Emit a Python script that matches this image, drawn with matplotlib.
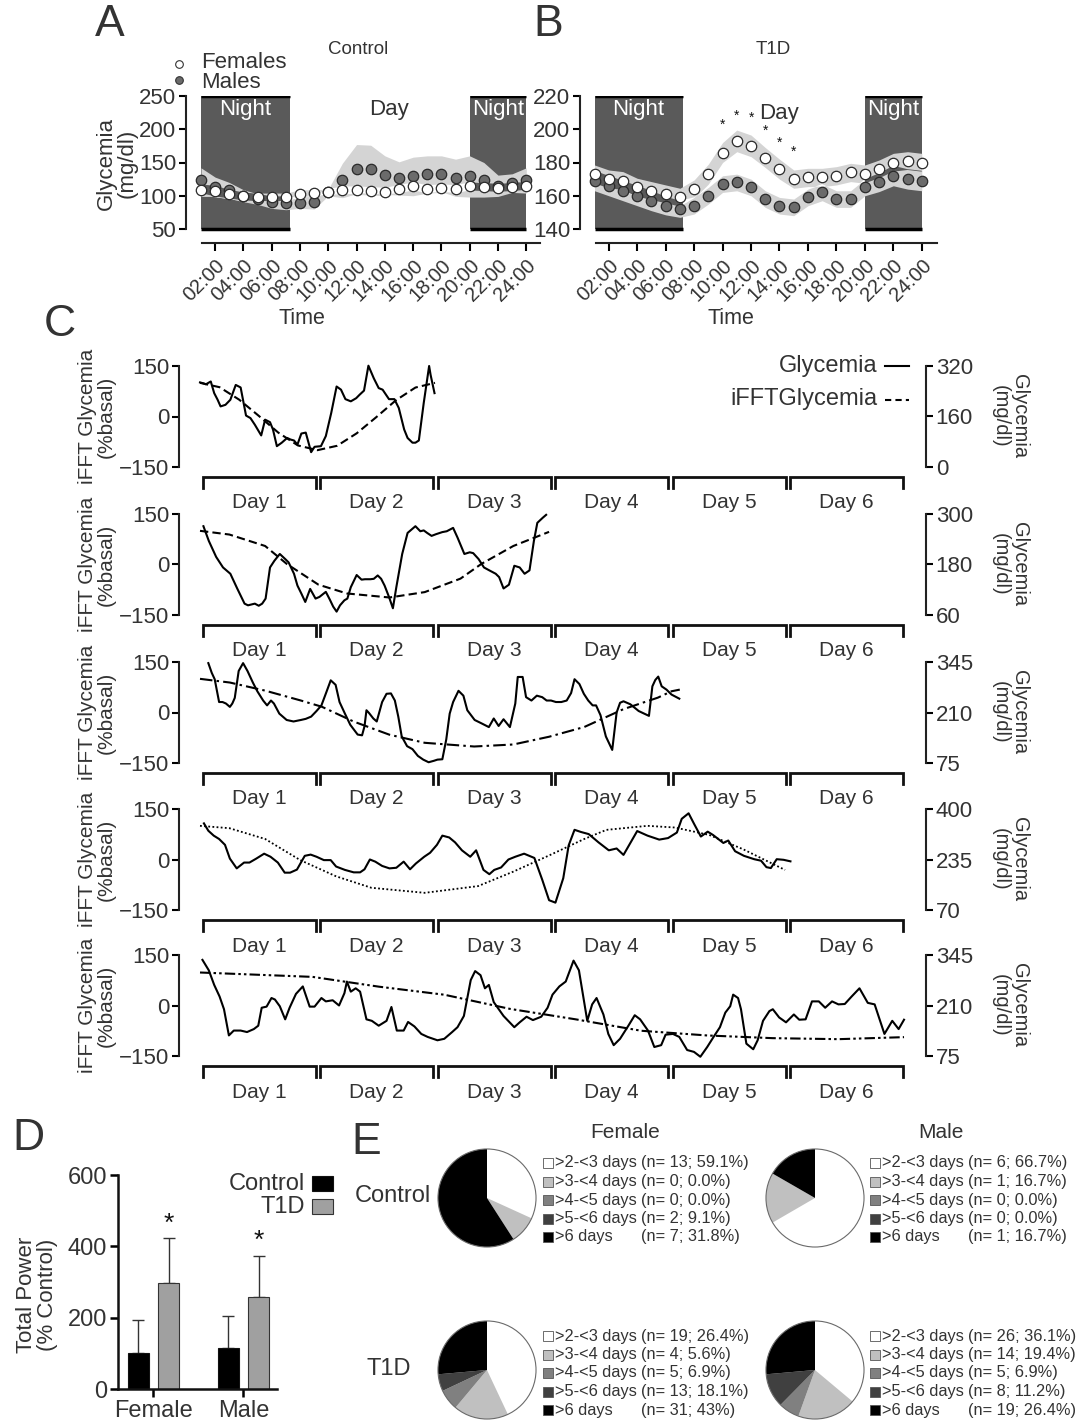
import numpy as np
import matplotlib
matplotlib.use('Agg')
import matplotlib.pyplot as plt
import matplotlib.transforms as mtransforms
from matplotlib.patches import Rectangle, Circle
from matplotlib.lines import Line2D

plt.rcParams['font.family'] = ['Liberation Sans', 'DejaVu Sans']
TXT = '#333333'
W, H = 1085, 1422

# ---------------- data ----------------
hours = np.arange(1, 25)
hour_labels = ['%02d:00' % h for h in range(2, 25, 2)]

ctrl_fem = [108, 107, 102, 99, 98, 98, 98, 103, 104, 106, 108, 108, 107, 106, 110, 114, 110, 111, 110, 114, 113, 112, 113, 115]
ctrl_fem_sem = [9, 8, 7, 6, 6, 6, 6, 6, 5, 4, 6, 6, 6, 6, 6, 6, 6, 6, 6, 6, 6, 6, 6, 6]
ctrl_male = [123, 113, 108, 100, 95, 90, 89, 89, 90, 105, 123, 140, 140, 131, 126, 129, 132, 133, 127, 129, 124, 115, 119, 123]
ctrl_male_sem = [19, 15, 12, 9, 8, 9, 10, 8, 10, 5, 26, 37, 36, 29, 25, 29, 28, 27, 28, 31, 26, 16, 14, 19]

t1d_fem = [173, 170, 169, 165, 163, 161, 159, 164, 173, 186, 193, 190, 183, 176, 170, 171, 171, 172, 174, 173, 176, 180, 181, 180]
t1d_fem_sem = [5.5, 5.5, 5.5, 5.5, 5.5, 5.5, 5.5, 5.5, 6, 6, 6.5, 6.5, 6, 6, 5.5, 5.5, 5.5, 5.5, 5.5, 5.5, 5.5, 5.5, 5.5, 5.5]
t1d_male = [169, 166, 163, 160, 157, 154, 152, 154, 160, 167, 168, 165, 158, 154, 153, 159, 162, 158, 158, 165, 168, 172, 170, 169]
t1d_male_sem = [6, 6, 6, 6, 6, 5.5, 5, 5, 5, 5, 5, 5, 5, 5, 5, 5, 5, 5, 5, 5, 5.5, 6, 6, 6]
star_hours = [10, 11, 12, 13, 14, 15]
star_y = [202.6, 208, 206.6, 199, 192, 186.6]

# panel C rows (hours, glycemia mg/dl) and iFFT (hours, %basal)
r1_h = [0, 0.7, 1.2, 2.2, 2.9, 3.6, 4.2, 5.2, 6.2, 7.3, 8.3, 9.4, 10.3, 11.2, 12.5, 13.3, 14.3, 14.9, 15.7, 16.7,
        17.8, 18.5, 19.2, 19.9, 20.7, 21.6, 22.7, 23.4, 24.7, 25.7, 26.8, 27.9, 28.8, 29.7, 30.8, 31.9, 32.6, 33.5,
        34.4, 35.5, 36.5, 37.3, 38.6, 39.7, 40.6, 41.7, 42.4, 43.4, 44.0, 44.7, 45.7, 46.8, 47.1, 47.9]
r1_g = [268, 265, 262, 271, 234, 213, 192, 197, 213, 260, 252, 163, 155, 134, 100, 150, 142, 119, 66, 77,
        92, 87, 84, 71, 106, 109, 47, 64, 66, 98, 171, 255, 245, 215, 208, 218, 229, 242, 321, 281,
        250, 245, 215, 215, 187, 119, 92, 77, 77, 84, 203, 320, 292, 234]
r1_fh = [0, 4, 8, 12, 16, 20, 24, 28, 32, 36, 40, 44, 48]
r1_fv = [100, 87, 50, 2, -48, -86, -100, -87, -50, -2, 48, 86, 100]

r2_h = [0.7, 1.8, 3.3, 4.7, 6.2, 7.6, 9.1, 9.8, 10.5, 11.2, 12.0, 12.7, 13.4, 14.3, 15.2, 16.3, 17.4, 18.1, 19.2, 19.9,
        20.7, 21.5, 22.5, 23.6, 24.4, 25.7, 26.5, 27.2, 27.9, 28.6, 29.5, 30.1, 30.8, 32.0, 33.0, 33.7, 34.8, 35.5,
        36.3, 37.0, 37.7, 38.6, 39.4, 40.1, 41.3, 42.4, 44.0, 45.0, 45.7, 46.4, 47.3, 48.2, 49.5, 50.4, 51.7, 52.6,
        54.0, 55.1, 55.8, 56.9, 58.0, 59.1, 60.4, 61.1, 62.0, 63.1, 64.2, 65.3, 66.3, 67.3, 68.2, 68.9, 70.0, 70.7]
r2_g = [271, 236, 198, 173, 158, 123, 87, 83, 85, 87, 82, 87, 99, 173, 189, 205, 193, 185, 158, 130,
        111, 91, 122, 99, 103, 115, 97, 80, 68, 83, 95, 99, 126, 155, 144, 145, 145, 146, 154, 146,
        130, 103, 76, 126, 205, 255, 271, 259, 261, 255, 248, 252, 257, 259, 267, 244, 205, 209, 207, 193,
        173, 166, 158, 150, 123, 132, 177, 173, 158, 166, 236, 279, 291, 298]
r2_fh = [0, 6, 13.3, 17.7, 24.2, 30, 38.7, 45.9, 53.2, 57.5, 64, 71.3]
r2_fv = [100, 89, 55, 2, -60, -86, -98, -82, -42, 2, 55, 97]

r3_h = [1.7, 2.4, 3.0, 3.9, 4.6, 5.3, 6.1, 6.6, 7.1, 7.9, 8.8, 9.7, 10.8, 11.7, 12.9, 13.7, 14.5, 15.1, 16.2, 17.7,
        19.1, 20.6, 21.6, 22.7, 23.8, 24.8, 25.8, 26.7, 27.7, 28.5, 29.6, 30.7, 32.2, 33.1, 33.6, 34.0, 34.5, 35.4,
        36.1, 37.2, 38.1, 39.0, 39.8, 40.5, 41.2, 42.3, 43.4, 44.5, 45.6, 46.7, 47.8, 48.5, 49.5, 50.3, 51.0, 51.7,
        52.8, 53.8, 54.6, 56.1, 57.5, 59.0, 60.0, 61.0, 62.0, 63.3, 64.4, 64.9, 65.9, 66.6, 67.7, 68.8, 69.9, 70.8,
        71.7, 72.7, 73.8, 74.9, 75.8, 76.5, 77.5, 78.4, 79.3, 80.2, 80.9, 81.8, 82.9, 84.2, 85.1, 85.8, 86.5, 87.9,
        89.6, 91.7, 92.4, 93.0, 93.6, 94.3, 95.3, 96.3, 97.9]
r3_g = [342, 316, 299, 238, 238, 234, 225, 234, 249, 321, 342, 321, 290, 267, 242, 229, 242, 234, 207, 190,
        186, 190, 193, 199, 214, 229, 264, 296, 284, 238, 207, 177, 151, 149, 173, 216, 209, 194, 186, 238,
        260, 261, 242, 199, 146, 120, 112, 94, 84, 77, 81, 84, 85, 138, 207, 238, 268, 255, 216, 190,
        181, 171, 194, 174, 192, 171, 234, 305, 305, 251, 242, 255, 251, 242, 242, 238, 238, 242, 262, 299,
        286, 260, 242, 229, 229, 203, 146, 110, 210, 236, 240, 232, 214, 201, 280, 297, 306, 280, 271, 258, 247]
r3_fh = [0, 6.1, 13.3, 20.5, 24.9, 31.4, 38.7, 45.9, 56, 64, 71.3, 78.5, 86.5, 93.5, 96.3, 98]
r3_fv = [100, 89, 65, 36, 17, -27, -66, -90, -101, -95, -72, -43, 10, 44, 63, 68]

r4_h = [0.8, 1.7, 2.8, 3.9, 5.1, 6.1, 7.5, 9.0, 10.1, 11.5, 13.1, 14.4, 15.9, 17.3, 18.4, 19.8, 21.4, 22.6, 23.8, 25.3,
        26.7, 27.8, 29.6, 31.4, 32.7, 33.6, 34.7, 35.8, 37.2, 38.7, 40.1, 41.6, 42.9, 44.1, 45.8, 47.0, 48.4, 49.5,
        50.9, 52.1, 53.5, 55.2, 56.4, 57.9, 59.1, 60.1, 61.5, 63.0, 64.4, 66.2, 68.3, 69.9, 71.3, 72.6, 74.2, 75.3,
        76.5, 77.8, 79.4, 81.4, 83.5, 85.1, 86.5, 89.3, 91.4, 93.8, 95.6, 97.4, 98.4, 99.8, 100.9, 102.3, 103.7,
        104.8, 106.9, 107.9, 109.3, 111.1, 113.2, 114.6, 115.7, 116.6, 117.8, 119.2, 120.6]
r4_g = [353, 329, 313, 302, 283, 238, 206, 225, 225, 238, 254, 244, 225, 192, 192, 202, 247, 251, 244, 233,
        233, 212, 201, 193, 193, 203, 235, 228, 214, 206, 208, 228, 203, 222, 244, 257, 283, 313, 307, 291,
        265, 244, 265, 201, 187, 201, 209, 235, 244, 254, 240, 169, 102, 94, 174, 281, 332, 325, 318, 291,
        265, 271, 250, 328, 313, 300, 305, 323, 368, 386, 352, 310, 326, 315, 289, 297, 262, 247, 236, 231,
        210, 207, 236, 234, 229]
r4_fh = [0, 6, 13.3, 20.5, 27.8, 35, 45.9, 56.8, 64, 71.3, 78.5, 83, 91.4, 97, 104, 111, 119.5]
r4_fv = [100, 93, 61, -2, -50, -84, -99, -79, -36, 12, 61, 88, 100, 95, 73, 30, -31]

r5_h = [0.5, 1.8, 2.9, 4.0, 4.9, 5.9, 6.9, 8.3, 9.6, 11.0, 11.9, 12.6, 13.6, 14.6, 15.3, 16.3, 17.4, 18.3, 19.6, 21.0,
        22.4, 23.4, 24.8, 25.7, 27.1, 28.4, 29.5, 30.0, 30.8, 31.8, 32.7, 34.0, 35.1, 36.5, 38.1, 39.1, 40.2, 41.6,
        42.5, 43.8, 45.2, 46.5, 48.5, 49.9, 51.5, 52.6, 53.9, 55.3, 56.2, 57.3, 58.2, 59.0, 60.0, 62.0, 64.2, 65.3,
        66.7, 68.0, 69.7, 71.0, 72.0, 73.4, 74.7, 76.3, 77.4, 79.1, 80.1, 81.0, 82.4, 83.4, 84.5, 85.8, 87.5, 88.8,
        89.9, 91.5, 92.8, 94.2, 95.1, 96.6, 97.9, 99.5, 100.9, 102.2, 103.6, 104.9, 106.2, 107.3, 108.3, 108.9,
        109.9, 110.5, 111.6, 113.0, 113.9, 115.0, 116.3, 117.0, 118.3, 119.7, 121.3, 122.4, 123.7, 125.0, 126.4,
        127.7, 129.1, 130.4, 131.7, 133.1, 134.7, 136.4, 137.8, 139.8, 141.4, 142.7, 143.8]
r5_g = [332, 304, 265, 234, 200, 130, 143, 143, 139, 147, 156, 204, 207, 230, 226, 208, 173, 204, 241, 261,
        207, 207, 230, 221, 224, 210, 243, 274, 247, 256, 247, 173, 169, 156, 169, 206, 143, 143, 166, 154,
        134, 126, 117, 121, 139, 152, 182, 278, 302, 291, 256, 265, 219, 182, 152, 165, 180, 171, 180, 204,
        239, 261, 274, 330, 304, 169, 213, 230, 186, 134, 104, 121, 156, 184, 173, 143, 99, 104, 132, 134,
        126, 91, 86, 73, 99, 126, 152, 191, 208, 239, 230, 200, 108, 93, 117, 169, 195, 200, 178, 165,
        186, 172, 173, 221, 221, 204, 221, 213, 214, 234, 256, 217, 213, 134, 169, 147, 172]
r5_fh = [0, 23, 36.5, 49.9, 63.3, 76.7, 90.1, 103.6, 117, 130.4, 143.8]
r5_fv = [98, 85, 56, 32, -10, -41, -75, -89, -97, -100, -94]

right_lims = [(0, 320), (60, 300), (75, 345), (70, 400), (75, 345)]

# panel D
groups = ['Female', 'Male']
power_ctrl = [101, 114]
power_ctrl_err = [193, 205]
power_t1d = [296, 257]
power_t1d_err = [422, 374]

# panel E
dur_labels = ['>2-<3 days', '>3-<4 days', '>4-<5 days', '>5-<6 days', '>6 days']
f_ctrl_n = [13, 0, 0, 2, 7]
f_ctrl_pct = ['59.1%', '0.0%', '0.0%', '9.1%', '31.8%']
m_ctrl_n = [6, 1, 0, 0, 1]
m_ctrl_pct = ['66.7%', '16.7%', '0.0%', '0.0%', '16.7%']
f_t1d_n = [19, 4, 5, 13, 31]
f_t1d_pct = ['26.4%', '5.6%', '6.9%', '18.1%', '43%']
m_t1d_n = [26, 14, 5, 8, 19]
m_t1d_pct = ['36.1%', '19.4%', '6.9%', '11.2%', '26.4%']
# slice shares as drawn in the pies (clockwise from 12 o'clock)
f_ctrl_pie = [31.8, 9.1, 0, 0, 59.1]
m_ctrl_pie = [66.7, 16.7, 0, 0, 16.7]
f_t1d_pie = [43, 18.1, 6.9, 5.6, 26.4]
m_t1d_pie = [36.1, 19.4, 6.9, 11.2, 26.4]
pie_colors = ['#ffffff', '#c0c0c0', '#808080', '#404040', '#000000']

# ---------------- helpers ----------------
fig = plt.figure(figsize=(W / 100, H / 100), dpi=100)


def box(l, t, r, b):
    return [l / W, 1 - b / H, (r - l) / W, (b - t) / H]


def ftext(x, y, s, **kw):
    kw.setdefault('color', TXT)
    return fig.text(x / W, 1 - y / H, s, **kw)


NIGHT = '#5a5a5a'
BAND = '#d4d4d4'


def day_panel(l, r, ymin, ymax, xl, xr, f, fs, m, ms, nights, yticks):
    ax = fig.add_axes(box(l, 96, r, 243))
    ybot = ymin - (ymax - ymin) * 14 / 133
    ax.set_xlim(xl, xr)
    ax.set_ylim(ybot, ymax)
    for s in ['top', 'right']:
        ax.spines[s].set_visible(False)
    ax.spines['left'].set_bounds(ymin, ymax)
    ax.spines['bottom'].set_bounds(1.07, xr)
    for s in ['left', 'bottom']:
        ax.spines[s].set_linewidth(1.5)
        ax.spines[s].set_color('#222')
    ax.set_yticks(yticks)
    ax.set_xticks(range(2, 25, 2))
    ax.set_xticklabels(hour_labels, rotation=45, ha='right', rotation_mode='anchor')
    ax.tick_params(axis='y', length=5, width=1.5, labelsize=16, labelcolor=TXT, pad=2)
    ax.tick_params(axis='x', length=6, width=1.5, labelsize=14.5, labelcolor=TXT, pad=3)

    for a, b in nights:
        ax.add_patch(Rectangle((a, ymin), b - a, ymax - ymin, fc=NIGHT, ec='none', zorder=1))
        ax.plot([a, b], [ymax, ymax], color='k', lw=2.5, zorder=6, solid_capstyle='butt')
        ax.plot([a, b], [ymin, ymin], color='k', lw=2.5, zorder=6, solid_capstyle='butt')

    f, fs, m, ms = map(np.asarray, (f, fs, m, ms))
    f_lo, f_hi, m_lo, m_hi = f - fs, f + fs, m - ms, m + ms
    ax.fill_between(hours, f_lo, f_hi, color=BAND, lw=0, zorder=2)
    ax.fill_between(hours, m_lo, m_hi, color=BAND, lw=0, zorder=2)
    ov_lo = np.maximum(f_lo, m_lo)
    ov_hi = np.minimum(f_hi, m_hi)
    regions = [(nights[0][1], nights[1][0], 'white')] + [(a, b, NIGHT) for a, b in nights]
    for a, b, c in regions:
        pc = ax.fill_between(hours, ov_lo, ov_hi, where=ov_hi > ov_lo, interpolate=True,
                             color=c, lw=0, zorder=3)
        clip = Rectangle((a, ymin), b - a, ymax - ymin, transform=ax.transData)
        pc.set_clip_path(clip)

    ax.plot(hours, m, 'o', mfc='#6b6b6b', mec='#2a2a2a', ms=7.5, mew=0.9, zorder=5, clip_on=False)
    ax.plot(hours, f, 'o', mfc='white', mec='#2a2a2a', ms=7.5, mew=0.9, zorder=5, clip_on=False)
    for a, b in nights:
        ax.text((a + b) / 2, ymin + (ymax - ymin) * 0.895, 'Night', color='white', fontsize=16,
                ha='center', va='center', zorder=7)
    return ax


# ---------------- panel A ----------------
axA = day_panel(186, 540, 50, 250, -0.06, 24.97, ctrl_fem, ctrl_fem_sem, ctrl_male, ctrl_male_sem,
                [(1, 7.3), (20, 24)], [50, 100, 150, 200, 250])
axA.text(14.3, 250 - 200 * 0.105, 'Day', fontsize=16, color=TXT, ha='center', va='center')
ftext(358, 50, 'Control', fontsize=13.5, ha='center', va='center')
ftext(117, 163, 'Glycemia\n(mg/dl)', fontsize=16, rotation=90, ha='center', va='center', linespacing=1.0)
ftext(302, 318, 'Time', fontsize=15.5, ha='center', va='center')
ftext(110, 25, 'A', fontsize=32, ha='center', va='center')
fig.add_artist(Line2D([179 / W], [1 - 64 / H], marker='o', mfc='white', mec='#333', ms=5.5, mew=0.8,
                      transform=fig.transFigure))
fig.add_artist(Line2D([179 / W], [1 - 80 / H], marker='o', mfc='#6b6b6b', mec='#333', ms=5.5, mew=0.8,
                      transform=fig.transFigure))
ftext(201, 63, 'Females', fontsize=16, ha='left', va='center')
ftext(201, 82, 'Males', fontsize=16, ha='left', va='center')

# ---------------- panel B ----------------
axB = day_panel(580, 937, 140, 220, -0.02, 25.07, t1d_fem, t1d_fem_sem, t1d_male, t1d_male_sem,
                [(1, 7.2), (20, 24)], [140, 160, 180, 200, 220])
axB.text(14.0, 209.5, 'Day', fontsize=16, color=TXT, ha='center', va='center', zorder=8)
for h, y in zip(star_hours, star_y):
    axB.text(h, y, '*', fontsize=10, color='#111', ha='center', va='center', zorder=8)
ftext(773, 50, 'T1D', fontsize=13.5, ha='center', va='center')
ftext(731, 318, 'Time', fontsize=15.5, ha='center', va='center')
ftext(548, 25, 'B', fontsize=32, ha='center', va='center')

# ---------------- panel C ----------------
ftext(60, 325, 'C', fontsize=32, ha='center', va='center')
rows = [
    (r1_h, r1_g, r1_fh, r1_fv, (0, (4, 2))),
    (r2_h, r2_g, r2_fh, r2_fv, (0, (4, 2))),
    (r3_h, r3_g, r3_fh, r3_fv, (0, (6, 2, 1.2, 2))),
    (r4_h, r4_g, r4_fh, r4_fv, (0, (1, 1.3))),
    (r5_h, r5_g, r5_fh, r5_fv, (0, (5, 1.5, 1.2, 1.5, 1.2, 1.5))),
]
row_tops = [366, 514, 662, 809, 955]
RH = 101
for i, (sh, sg, fh, fv, ls) in enumerate(rows):
    top = row_tops[i]
    ax = fig.add_axes(box(179, top, 926, top + RH))
    ax.set_xlim(-4.29, 148.29)
    ax.set_ylim(-150, 150)
    for s in ['top', 'bottom', 'right']:
        ax.spines[s].set_visible(False)
    ax.spines['left'].set_linewidth(1.5)
    ax.spines['left'].set_color('#222')
    ax.set_xticks([])
    ax.set_yticks([-150, 0, 150])
    ax.tick_params(axis='y', length=5, width=1.5, labelsize=16, labelcolor=TXT, pad=2)
    lw_f = 1.3 if i == 3 else 1.5
    ax.plot(fh, fv, color='k', lw=lw_f, ls=ls, clip_on=False)

    ax2 = ax.twinx()
    lo, hi = right_lims[i]
    ax2.set_ylim(lo, hi)
    ax2.set_yticks([lo, (lo + hi) / 2, hi])
    ax2.set_yticklabels([str(int(v)) for v in (lo, (lo + hi) / 2, hi)])
    for s in ['top', 'bottom', 'left']:
        ax2.spines[s].set_visible(False)
    ax2.spines['right'].set_linewidth(1.5)
    ax2.spines['right'].set_color('#222')
    ax2.tick_params(axis='y', length=5, width=1.5, labelsize=16, labelcolor=TXT, pad=2)
    ax2.plot(sh, sg, color='k', lw=1.5, clip_on=False)

    mid = top + RH / 2
    ftext(97, mid, 'iFFT Glycemia\n(%basal)', fontsize=15, rotation=90, ha='center', va='center',
          linespacing=1.0)
    ftext(1010, mid, 'Glycemia\n(mg/dl)', fontsize=14.5, rotation=270, ha='center', va='center',
          linespacing=1.0)

    trans = mtransforms.blended_transform_factory(ax.transData, ax.transAxes)
    y0, y1, yl = -10 / RH, -21 / RH, -36 / RH
    for d in range(6):
        a, b = d * 24 + 0.6, d * 24 + 23.6
        ax.plot([a, a, b, b], [y1, y0, y0, y1], transform=trans, color='#111', lw=2,
                clip_on=False, solid_joinstyle='miter')
        ax.text((a + b) / 2, yl, 'Day %d' % (d + 1), transform=trans, ha='center', va='center',
                fontsize=15, color=TXT)

# legend of panel C
ftext(878, 366, 'Glycemia', fontsize=17, ha='right', va='center')
ftext(878, 399, 'iFFTGlycemia', fontsize=17, ha='right', va='center')
fig.add_artist(Line2D([885 / W, 909 / W], [1 - 366 / H] * 2, color='k', lw=1.5, transform=fig.transFigure))
fig.add_artist(Line2D([885 / W, 909 / W], [1 - 400 / H] * 2, color='k', lw=1.5, ls=(0, (3, 2)),
                      transform=fig.transFigure))

# ---------------- panel D ----------------
ftext(28, 1138, 'D', fontsize=32, ha='center', va='center')
axD = fig.add_axes(box(118, 1175, 277, 1389))
axD.set_xlim(-0.395, 1.375)
axD.set_ylim(0, 600)
for s in ['top', 'right']:
    axD.spines[s].set_visible(False)
for s in ['left', 'bottom']:
    axD.spines[s].set_linewidth(1.8)
    axD.spines[s].set_color('#111')
xg = np.arange(len(groups))
bw = 0.234
axD.bar(xg - 0.17, power_ctrl, bw, color='black', edgecolor='#111', lw=0.8, zorder=2)
axD.bar(xg + 0.17, power_t1d, bw, color='#a0a0a0', edgecolor='#333', lw=0.8, zorder=2)
axD.errorbar(xg - 0.17, power_ctrl, yerr=[[0, 0], np.subtract(power_ctrl_err, power_ctrl)],
             fmt='none', ecolor='#333', elinewidth=1, capsize=4, capthick=1, zorder=1)
axD.errorbar(xg + 0.17, power_t1d, yerr=[[0, 0], np.subtract(power_t1d_err, power_t1d)],
             fmt='none', ecolor='#333', elinewidth=1, capsize=4, capthick=1, zorder=1)
for x, e in zip(xg + 0.17, power_t1d_err):
    axD.text(x, e + 8, '*', fontsize=19, ha='center', va='bottom', color='#111')
axD.set_yticks([0, 200, 400, 600])
axD.set_xticks(xg)
axD.set_xticklabels(groups)
axD.tick_params(axis='both', length=6, width=1.8, labelsize=17, labelcolor=TXT, pad=2)
ftext(37, 1295, 'Total Power\n(% Control)', fontsize=16, rotation=90, ha='center', va='center',
      linespacing=1.0)
ftext(305, 1184, 'Control', fontsize=17, ha='right', va='center')
ftext(305, 1207, 'T1D', fontsize=17, ha='right', va='center')
fig.add_artist(Rectangle((312 / W, 1 - 1191 / H), 21 / W, 15 / H, fc='black', ec='#111', lw=0.8,
                         transform=fig.transFigure))
fig.add_artist(Rectangle((312 / W, 1 - 1214 / H), 21 / W, 15 / H, fc='#a0a0a0', ec='#333', lw=0.8,
                         transform=fig.transFigure))

# ---------------- panel E ----------------
ftext(366, 1142, 'E', fontsize=32, ha='center', va='center')
ftext(625, 1132, 'Female', fontsize=15, ha='center', va='center')
ftext(941, 1132, 'Male', fontsize=15, ha='center', va='center')
ftext(393, 1196, 'Control', fontsize=17, ha='center', va='center')
ftext(389, 1369, 'T1D', fontsize=17, ha='center', va='center')

pies = [
    (487, 1198, f_ctrl_pie, f_ctrl_n, f_ctrl_pct, 543, 641, 1163),
    (815, 1198, m_ctrl_pie, m_ctrl_n, m_ctrl_pct, 870, 968, 1163),
    (487, 1370, f_t1d_pie, f_t1d_n, f_t1d_pct, 543, 641, 1336),
    (815, 1370, m_t1d_pie, m_t1d_n, m_t1d_pct, 870, 968, 1336),
]
R = 49
for cx, cy, vals, ns, pcts, lx, px, ly in pies:
    axp = fig.add_axes(box(cx - R - 1, cy - R - 1, cx + R + 1, cy + R + 1))
    axp.pie(vals, colors=pie_colors, startangle=90, counterclock=False, radius=1,
            wedgeprops=dict(linewidth=0))
    axp.add_patch(Circle((0, 0), 1, fill=False, ec='#6a6a6a', lw=0.8))
    axp.set_xlim(-1.02, 1.02)
    axp.set_ylim(-1.02, 1.02)
    axp.set_aspect('equal')
    axp.axis('off')
    for k in range(5):
        y = ly + k * 18.5
        fig.add_artist(Rectangle((lx / W, 1 - (y + 5) / H), 10 / W, 10 / H, fc=pie_colors[k],
                                 ec='#555', lw=0.6, transform=fig.transFigure))
        ftext(lx + 12, y, dur_labels[k], fontsize=11.8, ha='left', va='center')
        ftext(px, y, '(n= %d; %s)' % (ns[k], pcts[k]), fontsize=11.8, ha='left', va='center')

fig.savefig('out.png', dpi=100)
